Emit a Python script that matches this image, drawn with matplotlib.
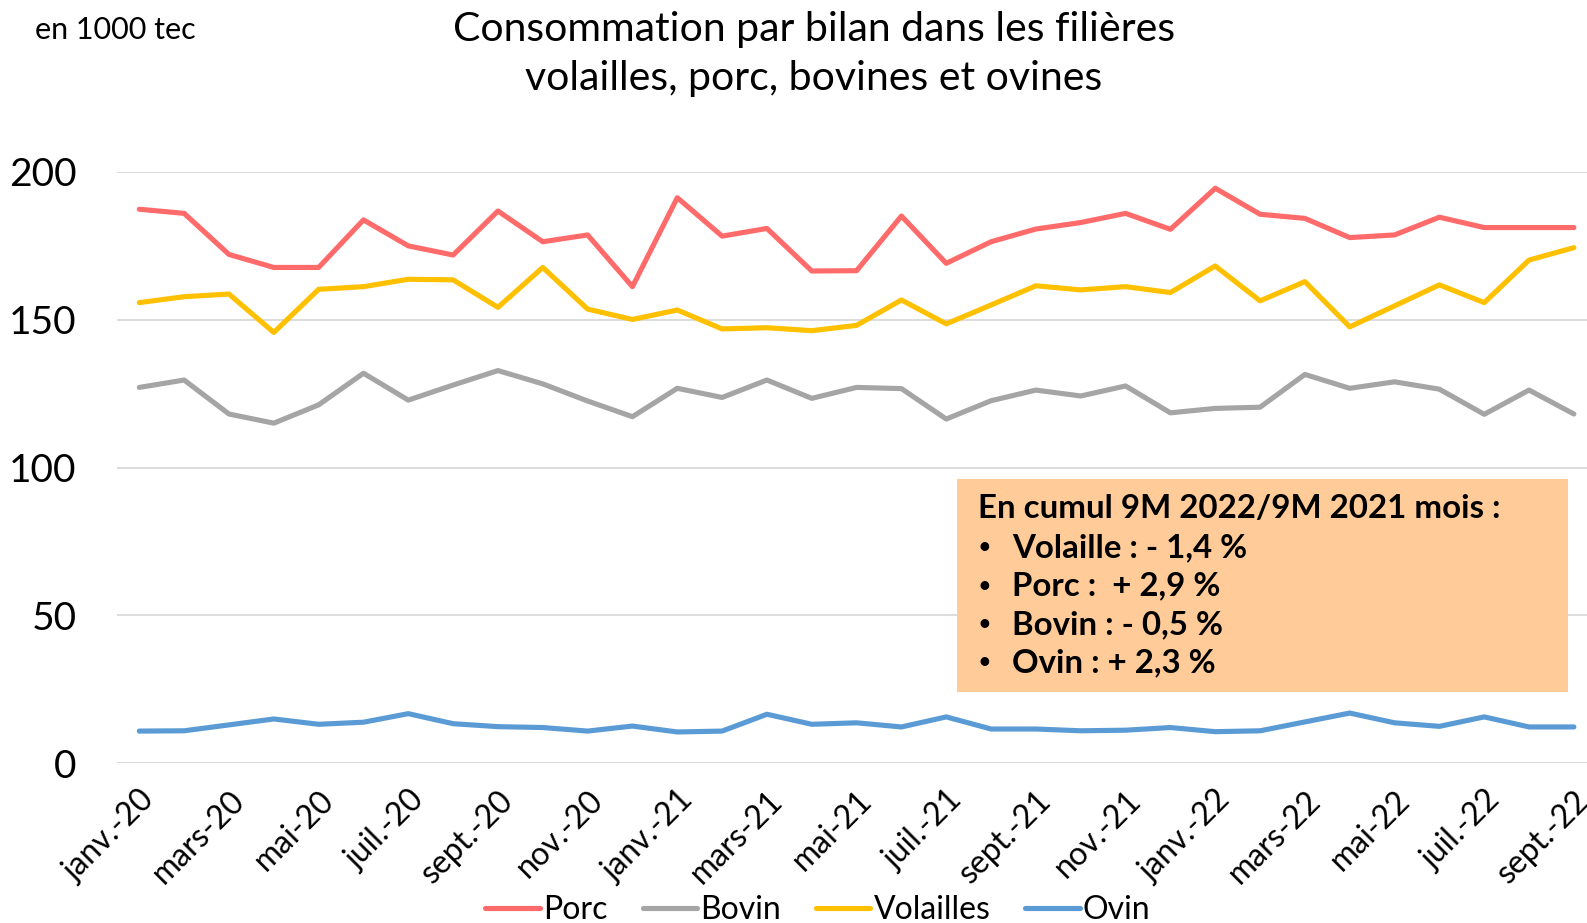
import matplotlib
matplotlib.use('Agg')
import matplotlib.pyplot as plt
import matplotlib.patches as mpatches
import numpy as np

plt.rcParams['font.family'] = ['Lato', 'DejaVu Sans']

# ── data (1000 tec) ───────────────────────────────────────────────────────
MONTHS = ['janv.-20', 'févr.-20', 'mars-20', 'avr.-20', 'mai-20', 'juin-20',
          'juil.-20', 'août-20', 'sept.-20', 'oct.-20', 'nov.-20', 'déc.-20',
          'janv.-21', 'févr.-21', 'mars-21', 'avr.-21', 'mai-21', 'juin-21',
          'juil.-21', 'août-21', 'sept.-21', 'oct.-21', 'nov.-21', 'déc.-21',
          'janv.-22', 'févr.-22', 'mars-22', 'avr.-22', 'mai-22', 'juin-22',
          'juil.-22', 'août-22', 'sept.-22']

porc = [187.4, 186.0, 172.1, 167.7, 167.7, 183.8, 175.0, 171.9, 186.8, 176.4,
        178.7, 161.2, 191.3, 178.3, 180.9, 166.5, 166.6, 185.1, 169.1, 176.4,
        180.7, 182.9, 186.0, 180.6, 194.5, 185.7, 184.3, 177.8, 178.7, 184.7,
        181.2, 181.2, 181.2]
bovin = [127.1, 129.6, 118.1, 115.0, 121.2, 131.9, 122.8, 127.9, 132.8, 128.3,
         122.5, 117.2, 126.8, 123.7, 129.6, 123.4, 127.1, 126.7, 116.4, 122.6,
         126.2, 124.2, 127.6, 118.5, 120.0, 120.4, 131.5, 126.8, 129.0, 126.5,
         118.0, 126.2, 118.1]
volailles = [155.8, 157.8, 158.7, 145.7, 160.3, 161.2, 163.7, 163.5, 154.2, 167.7,
             153.6, 150.1, 153.3, 146.9, 147.3, 146.3, 148.1, 156.7, 148.6, 155.0,
             161.5, 160.1, 161.2, 159.2, 168.2, 156.4, 162.9, 147.6, 154.7, 161.8,
             155.8, 170.2, 174.4]
ovin = [10.8, 10.9, 12.9, 14.9, 13.1, 13.8, 16.7, 13.3, 12.3, 12.0,
        10.8, 12.5, 10.5, 10.8, 16.5, 13.1, 13.6, 12.2, 15.6, 11.5,
        11.5, 10.9, 11.1, 12.0, 10.6, 10.9, 13.9, 16.9, 13.6, 12.4,
        15.6, 12.2, 12.2]

SERIES = [('Porc', porc, '#FF6B6B'),
          ('Bovin', bovin, '#A5A5A5'),
          ('Volailles', volailles, '#FFC000'),
          ('Ovin', ovin, '#5B9BD5')]

Y_TICKS = [0, 50, 100, 150, 200]

TITLE = 'Consommation par bilan dans les filières\nvolailles, porc, bovines et ovines'
UNIT = 'en 1000 tec'
BOX_HEAD = 'En cumul 9M 2022/9M 2021 mois :'
BOX_ITEMS = ['Volaille : - 1,4 %', 'Porc :  + 2,9 %', 'Bovin : - 0,5 %', 'Ovin : + 2,3 %']

W, H = 1587, 923
fig = plt.figure(figsize=(W / 100, H / 100), dpi=100)
ax = fig.add_axes([116.9 / W, 160 / H, 1479.4 / W, 591 / H])

x = np.arange(len(MONTHS))
for name, vals, col in SERIES:
    ax.plot(x, vals, color=col, lw=3.7, label=name,
            solid_joinstyle='round', solid_capstyle='round', clip_on=False)

ax.set_xlim(-0.5, len(MONTHS) - 0.5)
ax.set_ylim(0, 200)
ax.set_yticks(Y_TICKS)
ax.set_yticklabels([str(v) for v in Y_TICKS], fontsize=28)
ax.set_xticks(x[::2])
ax.set_xticklabels(MONTHS[::2], rotation=45, ha='right', rotation_mode='anchor',
                   fontsize=23)
ax.tick_params(axis='both', length=0)
ax.tick_params(axis='y', pad=29)
ax.tick_params(axis='x', pad=16)
ax.grid(axis='y', color='#d9d9d9', lw=1.3)
ax.set_axisbelow(True)
for s in ax.spines.values():
    s.set_visible(False)

fig.text(35 / W, 1 - 30 / H, UNIT, fontsize=22, ha='left', va='center')
fig.text(814 / W, 1 - 54 / H, TITLE, fontsize=29.5, ha='center', va='center',
         linespacing=1.38)

# ── annotation box ───────────────────────────────────────────────────────
fig.add_artist(mpatches.Rectangle((957 / W, 1 - 692 / H), 611 / W, 213 / H,
                                  transform=fig.transFigure,
                                  facecolor='#FFCC99', edgecolor='none'))
y0 = 509
fig.text(978 / W, 1 - y0 / H, BOX_HEAD, fontsize=23.8, fontweight='bold',
         ha='left', va='center')
for i, item in enumerate(BOX_ITEMS):
    yy = 1 - (y0 + 38.5 * (i + 1)) / H
    fig.text(977 / W, yy, '•', fontsize=17, ha='left', va='center')
    fig.text(1012 / W, yy, item, fontsize=23.8, fontweight='bold',
             ha='left', va='center')

fig.legend(loc='center', bbox_to_anchor=(818 / W, 1 - 910 / H), ncol=4,
           frameon=False, fontsize=23, handlelength=1.7, handletextpad=0.1,
           columnspacing=1.1)

fig.savefig('out.png', dpi=100, facecolor='white')
